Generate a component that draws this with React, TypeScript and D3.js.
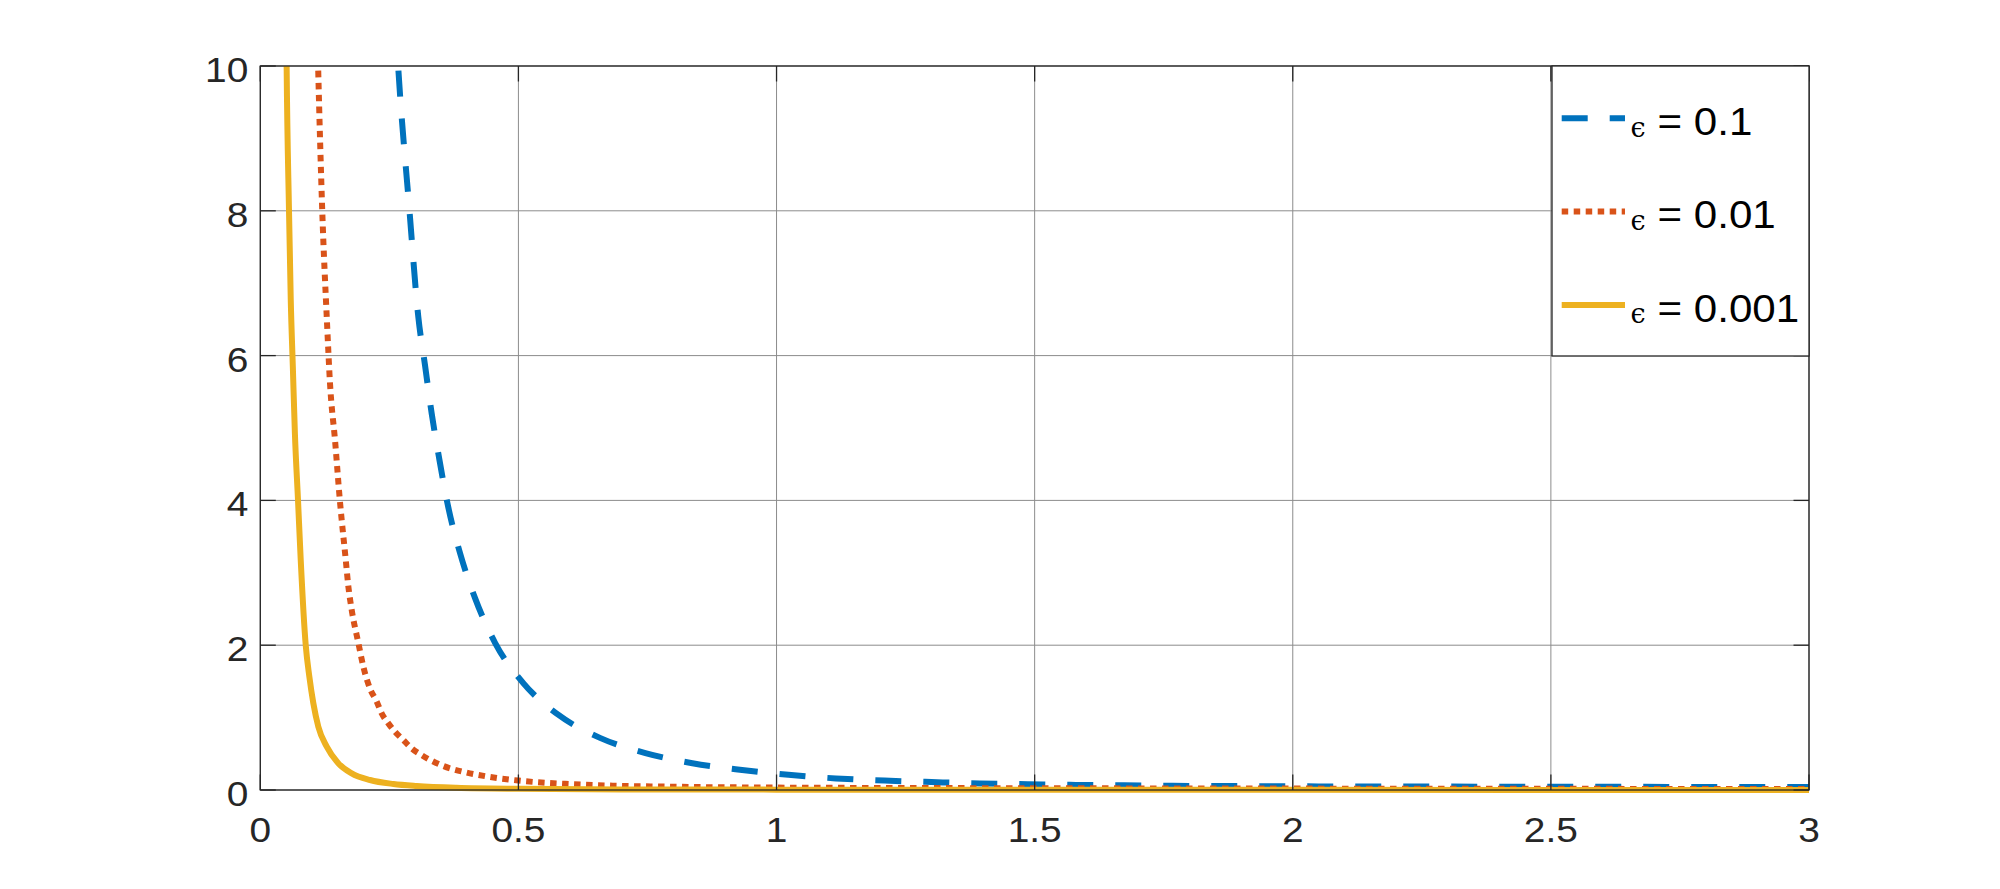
import React from "react";
import * as d3 from "d3";

// eps = 0.1 (blue, dashed)
const blueX = [0.262, 0.267, 0.289, 0.306, 0.319, 0.332, 0.347, 0.364, 0.387, 0.416, 0.455, 0.509, 0.577, 0.658, 0.746, 0.837, 0.929, 1.023, 1.115, 1.209, 1.3, 1.394, 1.487, 1.58, 1.673, 1.767, 1.86, 1.95, 2.05, 2.3, 2.6, 3.0];
const blueY = [10.6, 10, 8, 6.54, 5.87, 5.2, 4.56, 3.91, 3.27, 2.65, 2.03, 1.48, 1.04, 0.72, 0.51, 0.37, 0.28, 0.21, 0.16, 0.13, 0.11, 0.09, 0.08, 0.07, 0.064, 0.058, 0.055, 0.052, 0.05, 0.047, 0.044, 0.041];

// eps = 0.01 (red, dotted)
const redX = [0.11, 0.112, 0.12, 0.129, 0.135, 0.145, 0.154, 0.1655, 0.1706, 0.177, 0.19, 0.1997, 0.2126, 0.2256, 0.235, 0.248, 0.261, 0.277, 0.293, 0.313, 0.355, 0.4, 0.445, 0.5, 0.59, 0.683, 0.8, 1.0, 1.3, 1.7, 2.2, 3.0];
const redY = [10.6, 10, 8, 6.49, 5.62, 4.81, 4.01, 3.18, 2.81, 2.49, 2.03, 1.7, 1.4, 1.22, 1.06, 0.92, 0.805, 0.69, 0.576, 0.48, 0.33, 0.24, 0.18, 0.13, 0.085, 0.06, 0.045, 0.033, 0.027, 0.022, 0.018, 0.014];

// eps = 0.001 (yellow, solid)
const yelX = [0.05, 0.051, 0.0556, 0.059, 0.063, 0.067, 0.073, 0.0783, 0.088, 0.095, 0.1027, 0.1124, 0.1287, 0.151, 0.177, 0.2126, 0.258, 0.303, 0.38, 0.5, 0.7, 1.0, 1.5, 2.0, 3.0];
const yelY = [10.8, 10, 8, 6.77, 5.85, 4.93, 4.01, 3.18, 2.0, 1.565, 1.2, 0.875, 0.6, 0.37, 0.23, 0.138, 0.083, 0.055, 0.03, 0.016, 0.008, 0.005, 0.003, 0.002, 0.001];

const xTicks = [0, 0.5, 1, 1.5, 2, 2.5, 3];
const xTickLabels = ["0", "0.5", "1", "1.5", "2", "2.5", "3"];
const yTicks = [0, 2, 4, 6, 8, 10];
const yTickLabels = ["0", "2", "4", "6", "8", "10"];
const legendLabels = ["= 0.1", "= 0.01", "= 0.001"];

const W = 2000;
const H = 889;
const L = 260.3, R = 1809, T = 66, B = 790;

export default function App() {
  const x = d3.scaleLinear().domain([0, 3]).range([L, R]);
  const y = d3.scaleLinear().domain([0, 10]).range([B, T]);
  const line = d3
    .line<[number, number]>()
    .x((d) => x(d[0]))
    .y((d) => y(d[1]))
    .curve(d3.curveMonotoneX);

  const series = [
    { xs: blueX, ys: blueY, color: "#0072BD", dash: "26 22" },
    { xs: redX, ys: redY, color: "#D95319", dash: "6.5 5.5" },
    { xs: yelX, ys: yelY, color: "#EDB120", dash: undefined as string | undefined },
  ];

  const axisColor = "#262626";
  const gridColor = "#8c8c8c";
  const tickLen = 15.5;
  const font = "'Liberation Sans', Arial, Helvetica, sans-serif";
  const sx = 1.08;
  const lw = 6;

  const legX = 1552, legY = T, legW = R - 1552, legH = 356 - T;
  const legRow0 = 118.3, legStep = 93.3;

  return (
    <svg
      width={W}
      height={H}
      style={{ position: "absolute", left: 0, top: 0, display: "block", background: "#fff" }}
    >
      <rect x={0} y={0} width={W} height={H} fill="#fff" />
      <defs>
        <clipPath id="plotclip">
          <rect x={L} y={T} width={R - L} height={H - T} />
        </clipPath>
      </defs>
      {/* grid */}
      <g stroke={gridColor} strokeWidth={1}>
        {xTicks.map((t) => (
          <line key={"gx" + t} x1={x(t)} x2={x(t)} y1={T} y2={B} />
        ))}
        {yTicks.map((t) => (
          <line key={"gy" + t} x1={L} x2={R} y1={y(t)} y2={y(t)} />
        ))}
      </g>
      {/* curves */}
      <g clipPath="url(#plotclip)" fill="none">
        {series.map((s, i) => (
          <path
            key={i}
            d={line(s.xs.map((v, j) => [v, s.ys[j]] as [number, number])) || ""}
            stroke={s.color}
            strokeWidth={lw}
            strokeDasharray={s.dash}
            strokeLinejoin="round"
          />
        ))}
      </g>
      {/* axes box and ticks */}
      <g stroke={axisColor} strokeWidth={1.3} fill="none">
        <rect x={L} y={T} width={R - L} height={B - T} />
        {xTicks.map((t) => (
          <g key={"tx" + t}>
            <line x1={x(t)} x2={x(t)} y1={B} y2={B - tickLen} />
            <line x1={x(t)} x2={x(t)} y1={T} y2={T + tickLen} />
          </g>
        ))}
        {yTicks.map((t) => (
          <g key={"ty" + t}>
            <line x1={L} x2={L + tickLen} y1={y(t)} y2={y(t)} />
            <line x1={R} x2={R - tickLen} y1={y(t)} y2={y(t)} />
          </g>
        ))}
      </g>
      {/* tick labels */}
      <g fill={axisColor} fontFamily={font} fontSize={36}>
        {xTicks.map((t, i) => (
          <g key={"lx" + t} transform={`translate(${x(t)},${B + 52}) scale(${sx},1)`}>
            <text textAnchor="middle">{xTickLabels[i]}</text>
          </g>
        ))}
        {yTicks.map((t, i) => (
          <g key={"ly" + t} transform={`translate(${L - 12},${y(t) + 16}) scale(${sx},1)`}>
            <text textAnchor="end">{yTickLabels[i]}</text>
          </g>
        ))}
      </g>
      {/* legend */}
      <rect x={legX} y={legY} width={legW} height={legH} fill="#fff" stroke={axisColor} strokeWidth={1.3} />
      {series.map((s, i) => {
        const cy = legRow0 + i * legStep;
        return (
          <g key={"leg" + i}>
            <line
              x1={1561.7}
              x2={1625}
              y1={cy}
              y2={cy}
              stroke={s.color}
              strokeWidth={lw}
              strokeDasharray={s.dash}
            />
            <text
              x={1630.5}
              y={cy + 18.5}
              fontFamily="'DejaVu Serif', serif"
              fontSize={27}
              fill="#000"
            >
              ϵ
            </text>
            <g transform={`translate(1657.5,${cy + 16.7}) scale(${sx},1)`}>
              <text fontFamily={font} fontSize={39} fill="#000">
                {legendLabels[i]}
              </text>
            </g>
          </g>
        );
      })}
    </svg>
  );
}
